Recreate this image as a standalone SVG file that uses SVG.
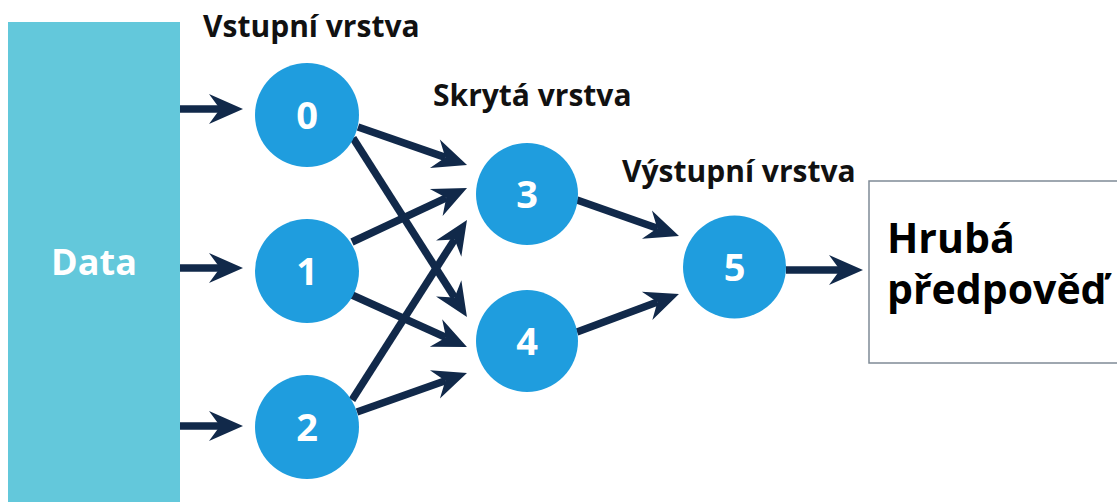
<svg xmlns="http://www.w3.org/2000/svg" width="1117" height="502" viewBox="0 0 1117 502">
  <style>
    .layer { font-family: "Open Sans", "Liberation Sans", sans-serif; font-weight: 700; font-size: 30px; fill: #111; }
    .neuron { fill: #1F9DDE; }
    .digit { font-family: "Open Sans", "Liberation Sans", sans-serif; font-weight: 700; font-size: 38px; fill: #fff; text-anchor: middle; }
    .edge { stroke: #11294A; stroke-width: 7.5; fill: none; marker-end: url(#head); }
    .big { font-family: "Open Sans", "Liberation Sans", sans-serif; font-weight: 700; font-size: 41px; fill: #000; }
  </style>
  <defs>
    <!-- barbed arrowhead; origin sits at the notch where the shaft ends -->
    <marker id="head" markerUnits="userSpaceOnUse" markerWidth="42" markerHeight="34" viewBox="-12 -17 38 34" refX="0" refY="0" orient="auto">
      <path d="M23,0 L-11,-15 L0,0 L-11,15 Z" fill="#11294A"/>
    </marker>
  </defs>

  <rect width="1117" height="502" fill="#fff"/>

  <!-- input data block -->
  <g id="data">
    <rect x="8" y="22" width="172" height="490" fill="#63C8DB"/>
    <text x="94" y="275" text-anchor="middle" font-family="'Open Sans', 'Liberation Sans', sans-serif" font-weight="700" font-size="36" fill="#fff">Data</text>
  </g>

  <!-- layer titles -->
  <g id="labels">
    <text class="layer" x="203" y="37">Vstupní vrstva</text>
    <text class="layer" x="433" y="106">Skrytá vrstva</text>
    <text class="layer" x="622" y="182">Výstupní vrstva</text>
  </g>

  <!-- connectors -->
  <g id="connectors">
    <line class="edge" x1="180" y1="109" x2="220" y2="109"/>
    <line class="edge" x1="180" y1="268" x2="220" y2="268"/>
    <line class="edge" x1="180" y1="426" x2="220" y2="426"/>

    <line class="edge" x1="358" y1="127" x2="445.3" y2="157.4"/>
    <line class="edge" x1="353" y1="138" x2="454.6" y2="297.6"/>
    <line class="edge" x1="352" y1="242" x2="446.2" y2="197.8"/>
    <line class="edge" x1="352" y1="295" x2="446.0" y2="337.5"/>
    <line class="edge" x1="352" y1="400" x2="454.6" y2="239.4"/>
    <line class="edge" x1="357" y1="412" x2="445.3" y2="380.7"/>

    <line class="edge" x1="577" y1="200" x2="657.3" y2="228.3"/>
    <line class="edge" x1="577" y1="332" x2="657.4" y2="302.0"/>

    <line class="edge" x1="786" y1="270" x2="840" y2="270"/>
  </g>

  <!-- input layer -->
  <g id="n0"><circle class="neuron" cx="307" cy="115" r="52"/><text class="digit" x="307" y="129">0</text></g>
  <g id="n1"><circle class="neuron" cx="307" cy="271" r="52"/><text class="digit" x="307" y="285">1</text></g>
  <g id="n2"><circle class="neuron" cx="307" cy="427" r="52"/><text class="digit" x="307" y="441">2</text></g>

  <!-- hidden layer -->
  <g id="n3"><circle class="neuron" cx="527" cy="194" r="51"/><text class="digit" x="527" y="208">3</text></g>
  <g id="n4"><circle class="neuron" cx="527" cy="341" r="51"/><text class="digit" x="527" y="355">4</text></g>

  <!-- output layer -->
  <g id="n5"><circle class="neuron" cx="734.5" cy="267" r="51.5"/><text class="digit" x="734.5" y="281">5</text></g>

  <!-- result box -->
  <g id="result">
    <rect x="869" y="181" width="270" height="182" fill="#fff" stroke="#7F8A96" stroke-width="1.5"/>
    <text class="big" x="887" y="253">Hrubá</text>
    <text class="big" x="887" y="304">předpověď</text>
  </g>
</svg>
